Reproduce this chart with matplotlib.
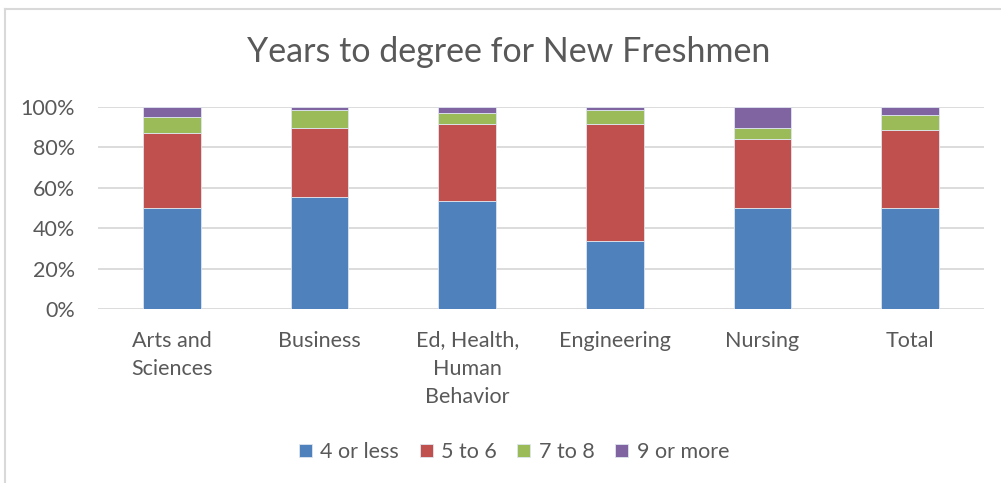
import numpy as np
import matplotlib
matplotlib.use('Agg')
import matplotlib.pyplot as plt
from matplotlib.ticker import PercentFormatter

plt.rcParams['font.family'] = ['Lato', 'DejaVu Sans']

colleges = ['Arts and\nSciences', 'Business', 'Ed, Health,\nHuman\nBehavior',
            'Engineering', 'Nursing', 'Total']
four_or_less = [50.2, 55.2, 53.4, 33.8, 50.1, 49.8]
five_to_six = [36.7, 34.2, 38.0, 57.6, 34.1, 38.9]
seven_to_eight = [8.3, 9.3, 5.6, 6.9, 5.5, 7.3]
nine_or_more = [4.8, 1.3, 3.0, 1.7, 10.3, 4.0]

series = [('4 or less', four_or_less, '#4F81BD'),
          ('5 to 6', five_to_six, '#C0504D'),
          ('7 to 8', seven_to_eight, '#9BBB59'),
          ('9 or more', nine_or_more, '#8064A2')]

W, H = 1001, 483
fig = plt.figure(figsize=(W / 100, H / 100), dpi=100)
# plot area in pixels: x 98..984, y 107..309
ax = fig.add_axes([98 / W, 1 - 309 / H, (984 - 98) / W, (309 - 107) / H])

x = np.arange(len(colleges))
bottom = np.zeros(len(colleges))
for name, vals, col in series:
    ax.bar(x, vals, width=0.39, bottom=bottom, color=col, label=name,
           edgecolor='#dfe6f0', linewidth=0.6, zorder=3)
    bottom += np.array(vals)

ax.set_xlim(-0.5, len(colleges) - 0.5)
ax.set_ylim(0, 100)
ax.set_yticks(np.arange(0, 101, 20))
ax.yaxis.set_major_formatter(PercentFormatter(decimals=0))
ax.grid(axis='y', color='#d9d9d9', linewidth=1.3, zorder=0)
for s in ax.spines.values():
    s.set_visible(False)
ax.tick_params(axis='both', length=0, labelsize=15.5, colors='#595959')
ax.tick_params(axis='y', pad=16.5)
ax.tick_params(axis='x', pad=15.5)
ax.set_xticks(x)
ax.set_xticklabels(colleges, linespacing=1.5)

fig.text(509 / W, 1 - 52 / H, 'Years to degree for New Freshmen', ha='center',
         va='center', fontsize=24.5, color='#595959')

fig.legend(loc='center', bbox_to_anchor=(514 / W, 1 - 452 / H), ncol=4,
           frameon=False, fontsize=15.5, labelcolor='#595959',
           handlelength=0.6, handleheight=0.6, handletextpad=0.4,
           columnspacing=0.95)

# chart border (top and left visible)
fig.add_artist(plt.Line2D([5 / W, 5 / W], [0, 1 - 8.5 / H], color='#d9d9d9',
                          linewidth=1.5, transform=fig.transFigure))
fig.add_artist(plt.Line2D([5 / W, 1], [1 - 8.5 / H, 1 - 8.5 / H], color='#d9d9d9',
                          linewidth=1.5, transform=fig.transFigure))

fig.savefig('out.png', dpi=100, facecolor='white')
